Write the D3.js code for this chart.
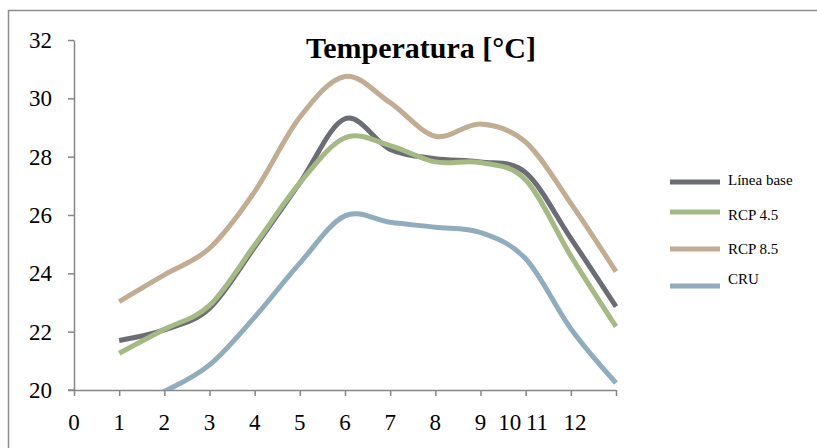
<!DOCTYPE html>
<html>
<head>
<meta charset="utf-8">
<script src="https://cdn.jsdelivr.net/npm/d3@7"></script>
<style>
  body { margin: 0; background: #fff; }
  text { font-family: "Liberation Serif", "DejaVu Serif", serif; fill: #000; }
</style>
</head>
<body>
<div id="chart"></div>
<script>
// Months on the x axis
const months = [1, 2, 3, 4, 5, 6, 7, 8, 9, 10, 11, 12];

// Series values
const lineaBase = [21.7, 22.06, 22.8, 24.9, 27.1, 29.3, 28.25, 27.93, 27.82, 27.45, 25.2, 22.86];
const rcp45 = [21.26, 22.08, 22.9, 24.97, 27.1, 28.65, 28.38, 27.82, 27.8, 27.2, 24.6, 22.17];
const rcp85 = [23.03, 23.95, 24.86, 26.8, 29.35, 30.75, 29.85, 28.7, 29.12, 28.5, 26.4, 24.06];
const cru = [19.3, 19.95, 20.86, 22.5, 24.35, 25.97, 25.75, 25.58, 25.4, 24.5, 22.1, 20.24];

const seriesNames = ["Línea base", "RCP 4.5", "RCP 8.5", "CRU"];
const seriesColors = ["#6b6c74", "#a5b985", "#c0ad94", "#91acbc"];

// Tick values and where Excel put the labels (10-12 got squeezed left)
const xTicks = [0, 1, 2, 3, 4, 5, 6, 7, 8, 9, 10, 11, 12];
const xLabelAt = [0, 1, 2, 3, 4, 5, 6, 7, 8, 9, 9.65, 10.25, 11.09];
const yTicks = [20, 22, 24, 26, 28, 30, 32];

const width = 817, height = 448;
const svg = d3.select("#chart").append("svg")
    .attr("width", width)
    .attr("height", height);

// Outer chart border
svg.append("rect")
    .attr("x", 8.5).attr("y", 10.5)
    .attr("width", 820).attr("height", 450)
    .attr("fill", "none")
    .attr("stroke", "#8c8c8c")
    .attr("stroke-width", 1.5);

const x = d3.scaleLinear().domain([0, 12]).range([74, 616]);
const y = d3.scaleLinear().domain([20, 32]).range([390, 40]);

svg.append("defs").append("clipPath").attr("id", "plot")
    .append("rect")
    .attr("x", x(0)).attr("y", y(32) - 10)
    .attr("width", x(12) - x(0) + 10).attr("height", y(20) - y(32) + 10);

// Y axis
const yAxis = svg.append("g")
    .attr("transform", "translate(" + x(0) + ",0)")
    .call(d3.axisLeft(y).tickValues(yTicks).tickSize(6).tickPadding(16).tickSizeOuter(0));
yAxis.selectAll("text").style("font-size", "23px").attr("font-family", null);

// X axis
const xAxis = svg.append("g")
    .attr("transform", "translate(0," + y(20) + ")")
    .call(d3.axisBottom(x).tickValues(xTicks).tickSize(6).tickFormat("").tickSizeOuter(0));

svg.selectAll(".xlabel")
    .data(xTicks)
    .enter()
    .append("text")
    .attr("class", "xlabel")
    .attr("x", (d, i) => x(xLabelAt[i]))
    .attr("y", 430)
    .attr("text-anchor", "middle")
    .style("font-size", "23px")
    .text(d => d);

svg.selectAll(".domain, .tick line")
    .attr("stroke", "#868686")
    .attr("stroke-width", 1.5);

// extend the bottom axis line to the left under the 20 tick
svg.append("line")
    .attr("x1", x(0) - 6).attr("x2", x(0))
    .attr("y1", y(20)).attr("y2", y(20))
    .attr("stroke", "#868686").attr("stroke-width", 1.5);

// Lines
const allSeries = [lineaBase, rcp45, rcp85, cru];
const line = d3.line()
    .curve(d3.curveCardinal.tension(0))
    .x((d, i) => x(months[i]))
    .y(d => y(d));

svg.append("g")
    .attr("clip-path", "url(#plot)")
    .selectAll("path")
    .data(allSeries)
    .enter()
    .append("path")
    .attr("d", line)
    .attr("fill", "none")
    .attr("stroke", (d, i) => seriesColors[i])
    .attr("stroke-width", 5)
    .attr("stroke-linejoin", "round");

// Title
svg.append("text")
    .attr("x", 421)
    .attr("y", 58)
    .attr("text-anchor", "middle")
    .style("font-size", "30px")
    .style("font-weight", "bold")
    .text("Temperatura [°C]");

// Legend
const legendY = [182, 212, 249, 286];
const legendTextY = [185, 220, 254, 284];
const legend = svg.append("g");
seriesNames.forEach((name, i) => {
    legend.append("line")
        .attr("x1", 670).attr("x2", 720)
        .attr("y1", legendY[i]).attr("y2", legendY[i])
        .attr("stroke", seriesColors[i])
        .attr("stroke-width", 5);
    legend.append("text")
        .attr("x", 728)
        .attr("y", legendTextY[i])
        .style("font-size", "15px")
        .text(name);
});
</script>
</body>
</html>
